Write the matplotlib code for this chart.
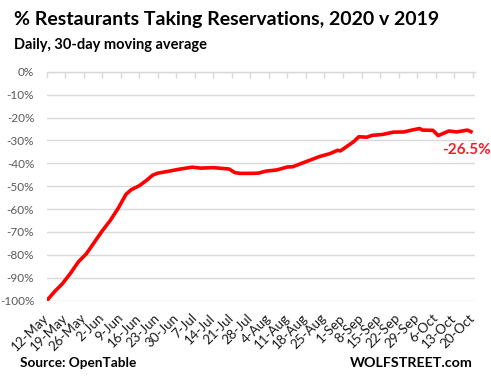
import matplotlib
matplotlib.use("Agg")
import matplotlib.pyplot as plt
import numpy as np
import pandas as pd

# ---- data ----
start_date = "2020-05-12"
day_offsets = [0, 3, 6, 9, 12, 15, 18, 21, 24, 27, 30, 32, 35, 38, 40, 42, 45, 50, 55,
               58, 63, 69, 71, 73, 77, 80, 83, 87, 91, 93, 98, 103, 107, 110, 111,
               116, 118, 121, 123, 127, 131, 135, 138, 141, 142, 146, 148, 152, 155,
               159, 161]
values = [-100, -96, -92.5, -88, -83, -79.5, -74.5, -69.5, -65, -59.7, -53.5, -51.5,
          -49.8, -47.2, -45.2, -44.3, -43.7, -42.6, -41.7, -42.1, -41.9, -42.5, -44.0,
          -44.4, -44.4, -44.3, -43.4, -42.9, -41.6, -41.5, -39.3, -37.1, -35.8, -34.3,
          -34.6, -30.6, -28.4, -28.6, -27.8, -27.4, -26.4, -26.3, -25.5, -24.8, -25.5,
          -25.6, -27.9, -25.9, -26.3, -25.5, -26.5]
tick_labels = ["12-May", "19-May", "26-May", "2-Jun", "9-Jun", "16-Jun", "23-Jun",
               "30-Jun", "7-Jul", "14-Jul", "21-Jul", "28-Jul", "4-Aug", "11-Aug",
               "18-Aug", "25-Aug", "1-Sep", "8-Sep", "15-Sep", "22-Sep", "29-Sep",
               "6-Oct", "13-Oct", "20-Oct"]
y_ticks = [0, -10, -20, -30, -40, -50, -60, -70, -80, -90, -100]
end_label = "-26.5%"

dates = pd.Timestamp(start_date) + pd.to_timedelta(day_offsets, unit="D")
tick_dates = pd.date_range(start_date, periods=len(tick_labels), freq="7D")

FONT = ["Lato", "DejaVu Sans"]
plt.rcParams["font.family"] = FONT

fig = plt.figure(figsize=(4.91, 3.80), dpi=100)
ax = fig.add_axes([0.0951, 0.2087, 0.8723, 0.6026])

ax.plot(dates, values, color="#FF0000", lw=2.6, solid_capstyle="butt", zorder=3)

ax.set_ylim(-100, 0)
ax.set_xlim(pd.Timestamp(start_date), pd.Timestamp(start_date) + pd.Timedelta(days=161.9))
ax.set_yticks(y_ticks)
ax.set_yticklabels([f"{v}%" for v in y_ticks])
ax.grid(axis="y", color="#D9D9D9", lw=1.0)
ax.set_axisbelow(True)
for s in ["left", "right", "bottom"]:
    ax.spines[s].set_visible(False)
ax.spines["top"].set_color("#D9D9D9")
ax.spines["top"].set_linewidth(1.0)

ax.tick_params(axis="y", length=0, pad=9, labelsize=8.5, labelcolor="#595959")
ax.set_xticks(tick_dates)
ax.set_xticklabels(tick_labels)
ax.tick_params(axis="x", top=True, bottom=False, labeltop=False, labelbottom=True,
               direction="in", length=4, color="#D9D9D9", width=1.0,
               labelsize=9.6, labelcolor="#1A1A1A", pad=11)
for lab in ax.get_xticklabels():
    lab.set_rotation(45)
    lab.set_ha("right")
    lab.set_va("center")
    lab.set_rotation_mode("anchor")

ax.text(pd.Timestamp(start_date) + pd.Timedelta(days=149.4), -34.2, end_label,
        color="#F0202A", fontsize=11, fontweight="bold", ha="left", va="center")

fig.text(14 / 491, 1 - 20 / 380, "% Restaurants Taking Reservations, 2020 v 2019",
         fontsize=14, fontweight="bold", ha="left", va="center", color="black")
fig.text(14 / 491, 1 - 45 / 380, "Daily, 30-day moving average",
         fontsize=10.5, fontweight="bold", ha="left", va="center", color="black")
fig.text(20 / 491, 1 - 363 / 380, "Source: OpenTable",
         fontsize=9.8, fontweight="bold", ha="left", va="center", color="black")
fig.text(473 / 491, 1 - 363 / 380, "WOLFSTREET.com",
         fontsize=10.3, fontweight="bold", ha="right", va="center", color="black")

fig.savefig("out.png", dpi=100)
